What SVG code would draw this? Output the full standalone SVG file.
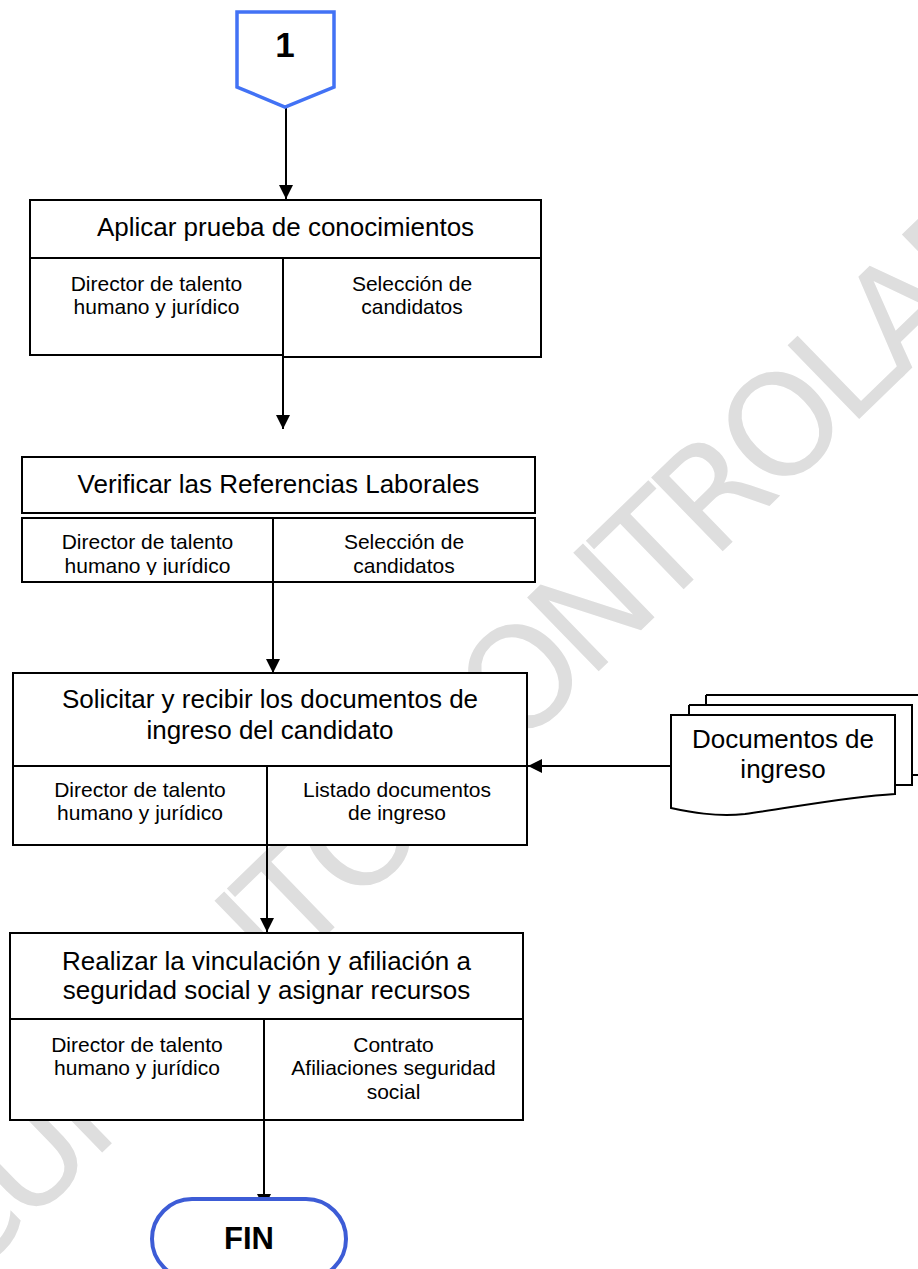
<svg xmlns="http://www.w3.org/2000/svg" width="918" height="1269" viewBox="0 0 918 1269">
<defs>
<marker id="ah" markerUnits="userSpaceOnUse" markerWidth="14" markerHeight="14" viewBox="0 0 14 14" refX="14" refY="7" orient="auto">
<path d="M0,0 L14,7 L0,14 Z" fill="#000"/>
</marker>
<clipPath id="clip2"><rect x="0" y="500" width="600" height="75"/></clipPath>
<style>
.box{fill:#fff;stroke:#000;stroke-width:2}
.hd{font-family:"Liberation Sans",Arial,sans-serif;font-size:26px;fill:#000;text-anchor:middle}
.dt{font-family:"Liberation Sans",Arial,sans-serif;font-size:21px;fill:#000;text-anchor:middle}
.cn{stroke:#000;stroke-width:2;fill:none;marker-end:url(#ah)}
.wm{font-family:"DejaVu Sans",sans-serif;font-size:141px;letter-spacing:-9.5px;fill:#dedede}
</style>
</defs>
<rect width="918" height="1269" fill="#fff"/>
<g id="watermark">
<text class="wm" x="-183" y="1429" transform="rotate(-44.1 -183 1429)">DOCUMENTO CONTROLADO</text>
</g>
<g id="connectors">
<line class="cn" x1="286" y1="107" x2="286" y2="199"/>
<line class="cn" x1="283" y1="345" x2="283" y2="429"/>
<line class="cn" x1="273" y1="582" x2="273" y2="673"/>
<line class="cn" x1="671" y1="766" x2="528" y2="766"/>
<line class="cn" x1="267" y1="845" x2="267" y2="932"/>
<line class="cn" x1="264" y1="1120" x2="264" y2="1208"/>
</g>
<g id="start">
<path d="M237,12 L334,12 L334,87 L285,107 L237,87 Z" fill="#fff" stroke="#4272f5" stroke-width="3.5"/>
<text x="285" y="57" font-family="Liberation Sans,Arial,sans-serif" font-size="35" font-weight="bold" text-anchor="middle">1</text>
</g>
<g id="n1">
<rect class="box" x="30" y="200" width="511" height="58"/>
<rect class="box" x="30" y="258" width="253" height="97"/>
<rect class="box" x="283" y="258" width="258" height="99"/>
<text class="hd" x="285.5" y="236">Aplicar prueba de conocimientos</text>
<text class="dt" x="156.5" y="291">Director de talento</text>
<text class="dt" x="156.5" y="314">humano y jurídico</text>
<text class="dt" x="412" y="291">Selección de</text>
<text class="dt" x="412" y="314">candidatos</text>
</g>
<g id="n2">
<rect class="box" x="22" y="457" width="513" height="56"/>
<rect class="box" x="22" y="518" width="251" height="64"/>
<rect class="box" x="273" y="518" width="262" height="64"/>
<text class="hd" x="278.5" y="493">Verificar las Referencias Laborales</text>
<g clip-path="url(#clip2)">
<text class="dt" x="147.5" y="549">Director de talento</text>
<text class="dt" x="147.5" y="573">humano y jurídico</text>
<text class="dt" x="404" y="549">Selección de</text>
<text class="dt" x="404" y="573">candidatos</text>
</g>
</g>
<g id="n3">
<rect class="box" x="13" y="673" width="514" height="93"/>
<rect class="box" x="13" y="766" width="254" height="79"/>
<rect class="box" x="267" y="766" width="260" height="79"/>
<text class="hd" x="270" y="708">Solicitar y recibir los documentos de</text>
<text class="hd" x="270" y="739">ingreso del candidato</text>
<text class="dt" x="140" y="797">Director de talento</text>
<text class="dt" x="140" y="820">humano y jurídico</text>
<text class="dt" x="397" y="797">Listado documentos</text>
<text class="dt" x="397" y="820">de ingreso</text>
</g>
<g id="docs">
<path d="M706,695 L925,695 L925,775 L912,775" fill="#fff" stroke="#000" stroke-width="2"/>
<path d="M689,705 L912,705 L912,785 L896,785" fill="#fff" stroke="#000" stroke-width="2"/>
<path d="M706,695 L706,705" stroke="#000" stroke-width="2"/>
<path d="M689,705 L689,715" stroke="#000" stroke-width="2"/>
<path d="M671,715 L895,715 L895,794 C845,797 790,808 745,814 C715,817 690,812 671,808 Z" fill="#fff" stroke="#000" stroke-width="2"/>
<text class="hd" x="783" y="748">Documentos de</text>
<text class="hd" x="783" y="778">ingreso</text>
</g>
<g id="n4">
<rect class="box" x="10" y="933" width="513" height="86"/>
<rect class="box" x="10" y="1019" width="254" height="101"/>
<rect class="box" x="264" y="1019" width="259" height="101"/>
<text class="hd" x="266.5" y="970">Realizar la vinculación y afiliación a</text>
<text class="hd" x="266.5" y="999">seguridad social y asignar recursos</text>
<text class="dt" x="137" y="1052">Director de talento</text>
<text class="dt" x="137" y="1075">humano y jurídico</text>
<text class="dt" x="393.5" y="1052">Contrato</text>
<text class="dt" x="393.5" y="1075">Afiliaciones seguridad</text>
<text class="dt" x="393.5" y="1099">social</text>
</g>
<g id="end">
<rect x="152" y="1199" width="194" height="80" rx="40" fill="#fff" stroke="#3d5cd6" stroke-width="4"/>
<text x="249" y="1249" font-family="Liberation Sans,Arial,sans-serif" font-size="31" font-weight="bold" text-anchor="middle">FIN</text>
</g>
</svg>
